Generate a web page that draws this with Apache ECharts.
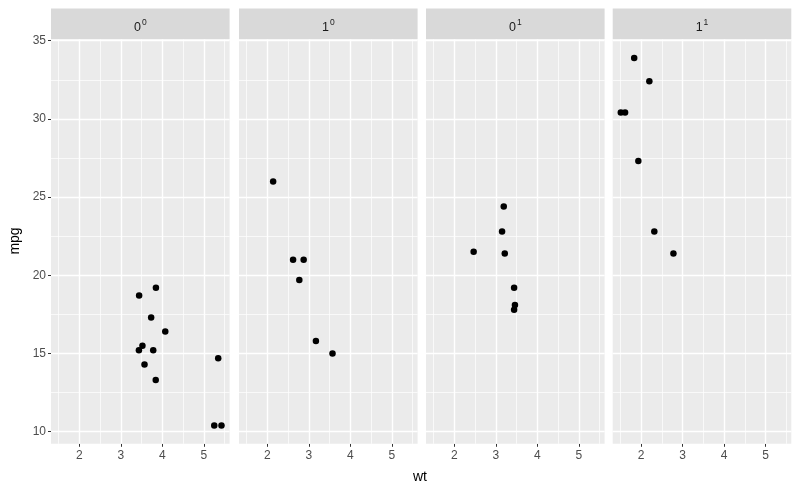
<!DOCTYPE html>
<html>
<head>
<meta charset="utf-8">
<script src="https://cdn.jsdelivr.net/npm/echarts@6/dist/echarts.min.js"></script>
<style>
  html, body { margin: 0; padding: 0; background: #fff; }
  #chart { width: 800px; height: 494px; }
</style>
</head>
<body>
<div id="chart"></div>
<script>
// mtcars, split by am (base) and vs (superscript)
const panelBase = ["0", "1", "0", "1"];
const panelSup = ["0", "0", "1", "1"];

const wt00 = [3.440, 3.570, 4.070, 3.730, 3.780, 5.250, 5.424, 5.345, 3.520, 3.435, 3.840, 3.845];
const mpg00 = [18.7, 14.3, 16.4, 17.3, 15.2, 10.4, 10.4, 14.7, 15.5, 15.2, 13.3, 19.2];

const wt10 = [2.620, 2.875, 2.140, 3.170, 2.770, 3.570];
const mpg10 = [21.0, 21.0, 26.0, 15.8, 19.7, 15.0];

const wt01 = [3.215, 3.460, 3.190, 3.150, 3.440, 3.440, 2.465];
const mpg01 = [21.4, 18.1, 24.4, 22.8, 19.2, 17.8, 21.5];

const wt11 = [2.320, 2.200, 1.615, 1.835, 1.935, 1.513, 2.780];
const mpg11 = [22.8, 32.4, 30.4, 33.9, 27.3, 30.4, 21.4];

const xTicks = [2, 3, 4, 5];
const xMinor = [1.5, 2.5, 3.5, 4.5, 5.5];
const yTicks = [10, 15, 20, 25, 30, 35];
const yMinor = [12.5, 17.5, 22.5, 27.5, 32.5];

const panelWt = [wt00, wt10, wt01, wt11];
const panelMpg = [mpg00, mpg10, mpg01, mpg11];

const chart = echarts.init(document.getElementById("chart"));

const xMin = 1.31745, xMax = 5.61955;
const yMin = 9.225, yMax = 35.075;

const panelLeft = [51, 239, 426, 612.7];
const panelW = 178.6;
const panelTop = 39.5;
const panelH = 404.3;
const stripTop = 8.5;
const stripH = 30.5;

const tickColor = "#4d4d4d";
const grids = [], xAxes = [], yAxes = [], series = [], graphics = [];

panelLeft.forEach((left, i) => {
  grids.push({
    left: left, top: panelTop, width: panelW, height: panelH,
    show: true, backgroundColor: "#ebebeb", borderWidth: 0
  });
  xAxes.push({
    gridIndex: i, type: "value", min: xMin, max: xMax,
    axisLine: { show: false },
    splitLine: { show: false },
    axisTick: { show: true, length: 3, customValues: xTicks, lineStyle: { color: "#333333", width: 1 } },
    axisLabel: { customValues: xTicks, color: tickColor, fontSize: 12, fontFamily: "Liberation Sans", margin: 6 }
  });
  yAxes.push({
    gridIndex: i, type: "value", min: yMin, max: yMax,
    axisLine: { show: false },
    splitLine: { show: false },
    axisTick: { show: i === 0, length: 3, customValues: yTicks, lineStyle: { color: "#333333", width: 1 } },
    axisLabel: { show: i === 0, customValues: yTicks, color: tickColor, fontSize: 12, fontFamily: "Liberation Sans", margin: 5 }
  });

  const lines = [];
  xMinor.forEach(v => lines.push({ xAxis: v, lineStyle: { width: 0.7 } }));
  yMinor.forEach(v => lines.push({ yAxis: v, lineStyle: { width: 0.7 } }));
  xTicks.forEach(v => lines.push({ xAxis: v, lineStyle: { width: 1.4 } }));
  yTicks.forEach(v => lines.push({ yAxis: v, lineStyle: { width: 1.4 } }));

  series.push({
    type: "scatter",
    xAxisIndex: i, yAxisIndex: i,
    z: 3,
    symbolSize: 6.5,
    itemStyle: { color: "#000000", opacity: 1 },
    data: panelWt[i].map((w, k) => [w, panelMpg[i][k]]),
    markLine: {
      z: 1, silent: true, animation: false,
      symbol: ["none", "none"],
      label: { show: false },
      lineStyle: { color: "#ffffff", type: "solid", opacity: 1 },
      emphasis: { disabled: true },
      data: lines
    }
  });

  // facet strip
  graphics.push({
    type: "rect",
    shape: { x: left, y: stripTop, width: panelW, height: stripH },
    style: { fill: "#d9d9d9" }
  });
  graphics.push({
    type: "text",
    x: left + panelW / 2, y: stripTop + stripH / 2 + 4,
    style: {
      text: `{b|${panelBase[i]}}{s|${panelSup[i]}}`,
      align: "center", verticalAlign: "middle",
      rich: {
        b: { fontSize: 12.5, fill: "#1a1a1a", fontFamily: "Liberation Sans" },
        s: { fontSize: 8.5, fill: "#1a1a1a", fontFamily: "Liberation Sans", padding: [0, 0, 10, 1] }
      }
    }
  });
});

graphics.push({
  type: "text",
  x: 420, y: 477,
  style: { text: "wt", align: "center", verticalAlign: "middle", fontSize: 14, fill: "#000", fontFamily: "Liberation Sans" }
});
graphics.push({
  type: "text",
  x: 15, y: 241, rotation: Math.PI / 2,
  style: { text: "mpg", align: "center", verticalAlign: "middle", fontSize: 14, fill: "#000", fontFamily: "Liberation Sans" }
});

chart.setOption({
  animation: false,
  backgroundColor: "#ffffff",
  grid: grids,
  xAxis: xAxes,
  yAxis: yAxes,
  series: series,
  graphic: graphics
});
</script>
</body>
</html>
